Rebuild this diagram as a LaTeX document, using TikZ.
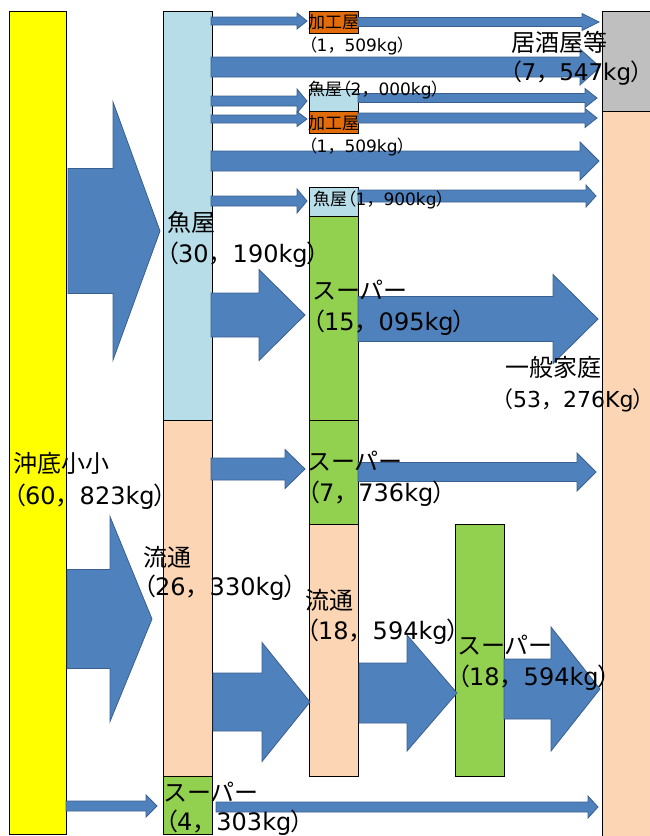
\documentclass[tikz,border=0pt]{standalone}
\usepackage{fontspec}
\setmainfont{Noto Sans CJK JP}
\newfontfamily\latinfont{DejaVu Sans}
\newfontfamily\pfont{Noto Sans CJK JP}[RawFeature={+palt}]
\newcommand\lf[1]{{\latinfont #1}}
\newcommand\lp{{\pfont （}}
\newcommand\rp{{\pfont ）}}
\newcommand\cm{，}
\definecolor{yel}{HTML}{FFFF00}
\definecolor{lblue}{HTML}{B7DDE8}
\definecolor{peach}{HTML}{FCD5B4}
\definecolor{lgreen}{HTML}{92D050}
\definecolor{orng}{HTML}{E36C0A}
\definecolor{gry}{HTML}{BFBFBF}
\definecolor{arrfill}{HTML}{4F81BD}
\definecolor{arredge}{HTML}{3A5F8F}
\tikzset{
 box/.style={draw=black,line width=1pt},
 arr/.style={fill=arrfill,draw=arredge,line width=0.8pt,line join=miter},
 big/.style={anchor=west,inner sep=0pt,font=\fontsize{24}{26}\selectfont},
 small/.style={anchor=west,inner sep=0pt,font=\fontsize{17}{19}\selectfont},
}
% x1 x2 y shaft-half head-half head-length
\newcommand\barrow[6]{%
 \draw[arr] (#1,#3-#4) -- (#2-#6,#3-#4) -- (#2-#6,#3-#5) -- (#2,#3) -- (#2-#6,#3+#5) -- (#2-#6,#3+#4) -- (#1,#3+#4) -- cycle;}
\begin{document}
\begin{tikzpicture}[x=1pt,y=-1pt]
\useasboundingbox (0,0) rectangle (649,836);
% boxes
\draw[box,fill=yel] (9,11) rectangle (66,834);
\draw[box,fill=lblue] (163,11) rectangle (212,420);
\draw[box,fill=peach] (163,420) rectangle (212,776);
\draw[box,fill=lgreen] (163,776) rectangle (212,834);
\draw[box,fill=orng] (309,11) rectangle (358,33);
\draw[box,fill=lblue] (309,89) rectangle (358,111);
\draw[box,fill=orng] (309,111) rectangle (358,133);
\draw[box,fill=lblue] (309,187) rectangle (358,216);
\draw[box,fill=lgreen] (309,216) rectangle (358,420);
\draw[box,fill=lgreen] (309,420) rectangle (358,524);
\draw[box,fill=peach] (309,524) rectangle (358,776);
\draw[box,fill=lgreen] (455,524) rectangle (504,776);
\draw[box,fill=gry] (602,11) rectangle (655,111);
\draw[box,fill=peach] (602,111) rectangle (655,840);
% arrows
\barrow{211}{307}{21}{4}{8}{10}
\barrow{358}{599}{22}{4.5}{8.5}{17}
\barrow{211}{600}{67}{10}{18}{20}
\barrow{211}{307}{101}{5}{12}{10}
\barrow{211}{307}{119}{4}{7.5}{10}
\barrow{358}{597}{98}{4.5}{9.5}{12}
\barrow{358}{597}{118}{5}{9.5}{12}
\barrow{211}{599}{161}{10}{19}{19}
\barrow{211}{307}{201}{5}{12}{10}
\barrow{358}{596}{196}{6}{11}{10}
\barrow{68}{160}{231}{62.5}{129}{47}
\barrow{211}{305}{315}{22}{45.5}{46}
\barrow{358}{598}{319}{22.5}{44.5}{45}
\barrow{211}{305}{469}{11}{19.5}{20}
\barrow{358}{596}{472}{9.5}{19}{19}
\barrow{67}{152}{619}{49.5}{102.5}{42}
\barrow{213}{310}{702}{29}{59.5}{48}
\barrow{359}{457}{693}{30}{58}{50}
\barrow{504}{600}{689}{30}{62}{49}
\barrow{66}{157}{806}{5}{11}{11}
\barrow{216}{598}{807}{5}{11}{10}
% labels
\node[small] (k1) at (308,22) {加工屋};
\node[small] (k1n) at (308,46) {\lp\lf{1}\cm\lf{509kg}\rp};
\node[small] (u2) at (308,90) {魚屋\lp\lf{2}\cm\lf{000kg}\rp};
\node[small] (k2) at (308,123) {加工屋};
\node[small] (k2n) at (308,147) {\lp\lf{1}\cm\lf{509kg}\rp};
\node[small] (u3) at (313,200) {魚屋\lp\lf{1}\cm\lf{900kg}\rp};
\node[big] (iz) at (511,42) {居酒屋等};
\node[big,font=\fontsize{23}{25}\selectfont] (izn) at (510,73) {\lp\lf{7}\cm\lf{547kg}\rp};
\node[big] (uo) at (167,222) {魚屋};
\node[big] (uon) at (166,255) {\lp\lf{30}\cm\lf{190kg}\rp};
\node[big] (s1) at (312,290) {スーパー};
\node[big] (s1n) at (312,323) {\lp\lf{15}\cm\lf{095kg}\rp};
\node[big] (ip) at (505,367) {一般家庭};
\node[big,font=\fontsize{22}{24}\selectfont] (ipn) at (502,400) {\lp\lf{53}\cm\lf{276Kg}\rp};
\node[big] (ok) at (13,463) {沖底小小};
\node[big] (okn) at (13,497) {\lp\lf{60}\cm\lf{823kg}\rp};
\node[big] (s2) at (307,461) {スーパー};
\node[big] (s2n) at (307,494) {\lp\lf{7}\cm\lf{736kg}\rp};
\node[big] (ry) at (143,557) {流通};
\node[big] (ryn) at (143,588) {\lp\lf{26}\cm\lf{330kg}\rp};
\node[big] (r2) at (305,600) {流通};
\node[big] (r2n) at (306,632) {\lp\lf{18}\cm\lf{594kg}\rp};
\node[big] (s3) at (457,645) {スーパー};
\node[big] (s3n) at (457,678) {\lp\lf{18}\cm\lf{594kg}\rp};
\node[big] (s4) at (163,792) {スーパー};
\node[big] (s4n) at (165,823) {\lp\lf{4}\cm\lf{303kg}\rp};
\end{tikzpicture}
\end{document}
